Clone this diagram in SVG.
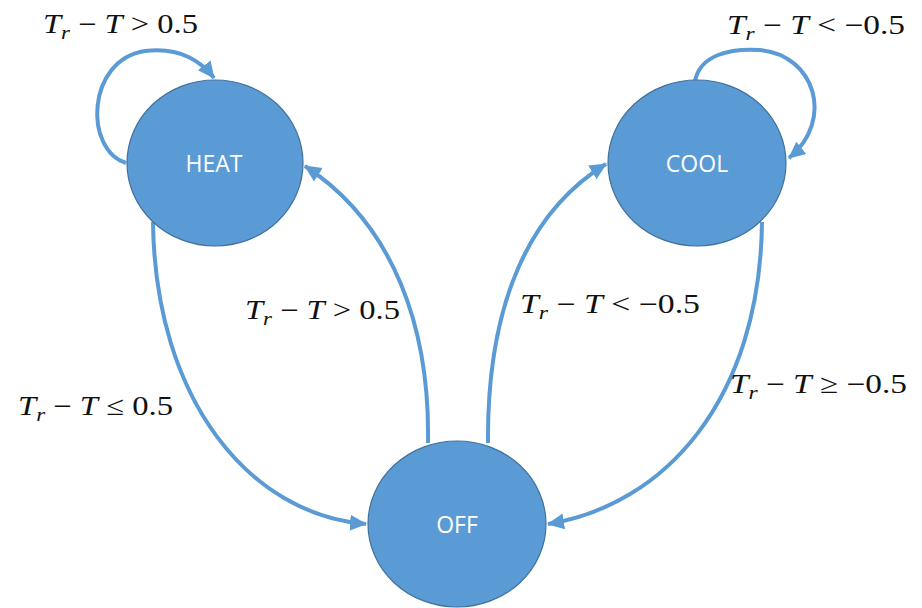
<svg xmlns="http://www.w3.org/2000/svg" width="922" height="608" viewBox="0 0 922 608">
<style>
.node{fill:#5B9BD5;stroke:#41719C;stroke-width:1.2}
.nl{fill:#ffffff;font-family:"Open Sans","Liberation Sans",sans-serif;font-size:23px;text-anchor:middle}
.edge{fill:none;stroke:#5B9BD5;stroke-width:4;marker-end:url(#ah)}
.lab{font-family:"Liberation Serif","DejaVu Serif",serif;font-size:27px;fill:#111}
.it{font-style:italic}
</style>
<defs>
<marker id="ah" markerUnits="userSpaceOnUse" markerWidth="20" markerHeight="18" refX="16" refY="8" orient="auto">
<path d="M0,0 L17,8 L0,16 Z" fill="#5B9BD5"/>
</marker>
</defs>
<rect width="922" height="608" fill="#ffffff"/>
<g id="connectors">
<path class="edge" d="M126,163 C 84,150 86,60 145,51 C 178,47 200,60 214,78"/>
<path class="edge" d="M695,81 C 700,55 730,48 760,50 C 815,55 835,120 789,158"/>
<path class="edge" d="M153,222 C 155,400 250,515 366,524"/>
<path class="edge" d="M428,443 C 430,330 395,225 305,166"/>
<path class="edge" d="M488,443 C 487,330 515,220 606,164"/>
<path class="edge" d="M762,222 C 760,400 665,505 548,524"/>
</g>
<g id="heat">
<ellipse class="node" cx="215" cy="163" rx="88" ry="83"/>
<text class="nl" x="214" y="172">HEAT</text>
</g>
<g id="cool">
<ellipse class="node" cx="697" cy="163" rx="89" ry="83"/>
<text class="nl" x="697" y="172">COOL</text>
</g>
<g id="off">
<ellipse class="node" cx="457" cy="524" rx="89" ry="83"/>
<text class="nl" x="457" y="533">OFF</text>
</g>
<g id="labels">
<text class="lab" x="43" y="33" textLength="155" lengthAdjust="spacingAndGlyphs"><tspan class="it">T</tspan><tspan class="it" font-size="19" dy="6">r</tspan><tspan dy="-6"> − </tspan><tspan class="it">T</tspan><tspan> &gt; 0.5</tspan></text>
<text class="lab" x="727" y="34" textLength="178" lengthAdjust="spacingAndGlyphs"><tspan class="it">T</tspan><tspan class="it" font-size="19" dy="6">r</tspan><tspan dy="-6"> − </tspan><tspan class="it">T</tspan><tspan> &lt; −0.5</tspan></text>
<text class="lab" x="245" y="319" textLength="155" lengthAdjust="spacingAndGlyphs"><tspan class="it">T</tspan><tspan class="it" font-size="19" dy="6">r</tspan><tspan dy="-6"> − </tspan><tspan class="it">T</tspan><tspan> &gt; 0.5</tspan></text>
<text class="lab" x="18" y="415" textLength="155" lengthAdjust="spacingAndGlyphs"><tspan class="it">T</tspan><tspan class="it" font-size="19" dy="6">r</tspan><tspan dy="-6"> − </tspan><tspan class="it">T</tspan><tspan> ≤ 0.5</tspan></text>
<text class="lab" x="520" y="313" textLength="180" lengthAdjust="spacingAndGlyphs"><tspan class="it">T</tspan><tspan class="it" font-size="19" dy="6">r</tspan><tspan dy="-6"> − </tspan><tspan class="it">T</tspan><tspan> &lt; −0.5</tspan></text>
<text class="lab" x="730" y="393" textLength="177" lengthAdjust="spacingAndGlyphs"><tspan class="it">T</tspan><tspan class="it" font-size="19" dy="6">r</tspan><tspan dy="-6"> − </tspan><tspan class="it">T</tspan><tspan> ≥ −0.5</tspan></text>
</g>
</svg>
